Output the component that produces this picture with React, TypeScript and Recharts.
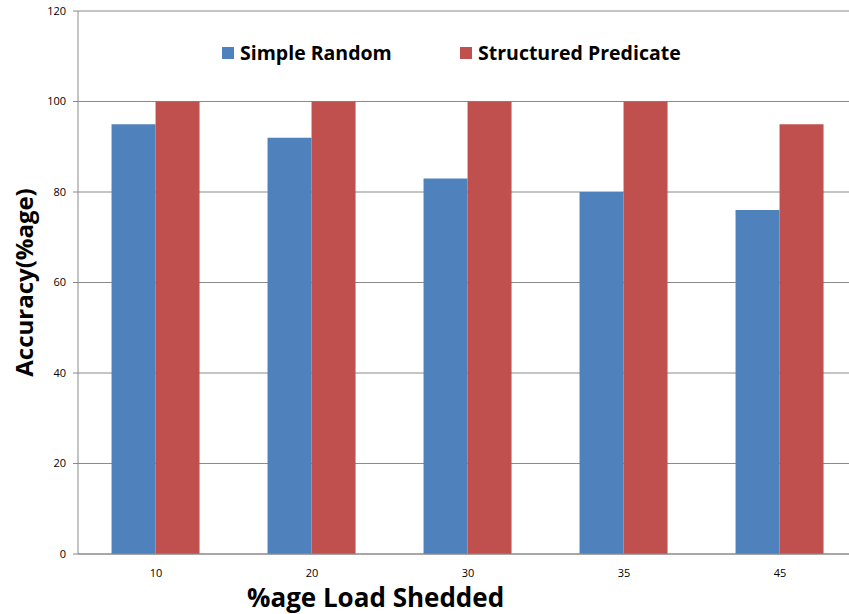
import React from "react";
import {
  BarChart,
  Bar,
  XAxis,
  YAxis,
  CartesianGrid,
  Label,
} from "recharts";

const categories: string[] = ["10", "20", "30", "35", "45"];
const simpleRandom: number[] = [95, 92, 83, 80, 76];
const structuredPredicate: number[] = [100, 100, 100, 100, 95];
const yTicks: number[] = [0, 20, 40, 60, 80, 100, 120];

const data = categories.map((c, i) => ({
  load: c,
  simple: simpleRandom[i],
  structured: structuredPredicate[i],
}));

const FONT = "'Open Sans', Lato, sans-serif";
const BLUE = "#4F81BD";
const RED = "#C0504D";
const AXIS = "#8a8a8a";

const LegendBox: React.FC = () => (
  <div
    style={{
      position: "absolute",
      left: 222,
      top: 40,
      fontFamily: FONT,
      fontWeight: 700,
      fontSize: 19.5,
      lineHeight: "26px",
      color: "#000",
      whiteSpace: "nowrap",
    }}
  >
    <div style={{ display: "flex", alignItems: "center", position: "absolute", left: 0 }}>
      <span style={{ width: 12, height: 12, background: BLUE, display: "inline-block", marginRight: 6 }} />
      Simple Random
    </div>
    <div style={{ display: "flex", alignItems: "center", position: "absolute", left: 238 }}>
      <span style={{ width: 12, height: 12, background: RED, display: "inline-block", marginRight: 6 }} />
      Structured Predicate
    </div>
  </div>
);

const App: React.FC = () => {
  return (
    <div style={{ position: "absolute", left: 0, top: 0, width: 849, height: 614, overflow: "hidden", background: "#fff" }}>
      <BarChart
        width={858}
        height={614}
        data={data}
        margin={{ top: 11, right: 0, bottom: 0, left: 18 }}
        barCategoryGap="21.5%"
        barGap={0}
      >
        <CartesianGrid horizontal vertical={false} stroke={AXIS} />
        <XAxis
          xAxisId="cat"
          dataKey="load"
          height={60}
          axisLine={{ stroke: AXIS }}
          tickLine={false}
          tick={{ fontSize: 11, fill: "#000", fontFamily: FONT }}
          tickMargin={9}
        />
        <XAxis
          xAxisId="edges"
          type="number"
          domain={[0, 5]}
          ticks={[0, 1, 2, 3, 4, 5]}
          axisLine={false}
          tickLine={{ stroke: AXIS }}
          tickSize={5}
          tick={false}
          height={0}
        />
        <YAxis
          domain={[0, 120]}
          ticks={yTicks}
          width={60}
          axisLine={{ stroke: AXIS }}
          tickLine={{ stroke: AXIS }}
          tickSize={5}
          tick={{ fontSize: 11, fill: "#000", fontFamily: FONT }}
          tickMargin={7}
        >
          <Label
            value="Accuracy(%age)"
            angle={-90}
            position="insideLeft"
            offset={0}
            dx={6}
            style={{ fontSize: 24, fontWeight: 700, fill: "#000", fontFamily: FONT, textAnchor: "middle" }}
          />
        </YAxis>
        <Bar xAxisId="cat" dataKey="simple" name="Simple Random" fill={BLUE} isAnimationActive={false} />
        <Bar xAxisId="cat" dataKey="structured" name="Structured Predicate" fill={RED} isAnimationActive={false} />
      </BarChart>
      <LegendBox />
      <div
        style={{
          position: "absolute",
          left: 247,
          top: 584,
          fontFamily: FONT,
          fontWeight: 700,
          fontSize: 26,
          lineHeight: 1,
          color: "#000",
          whiteSpace: "nowrap",
        }}
      >
        %age Load Shedded
      </div>
    </div>
  );
};

export default App;
